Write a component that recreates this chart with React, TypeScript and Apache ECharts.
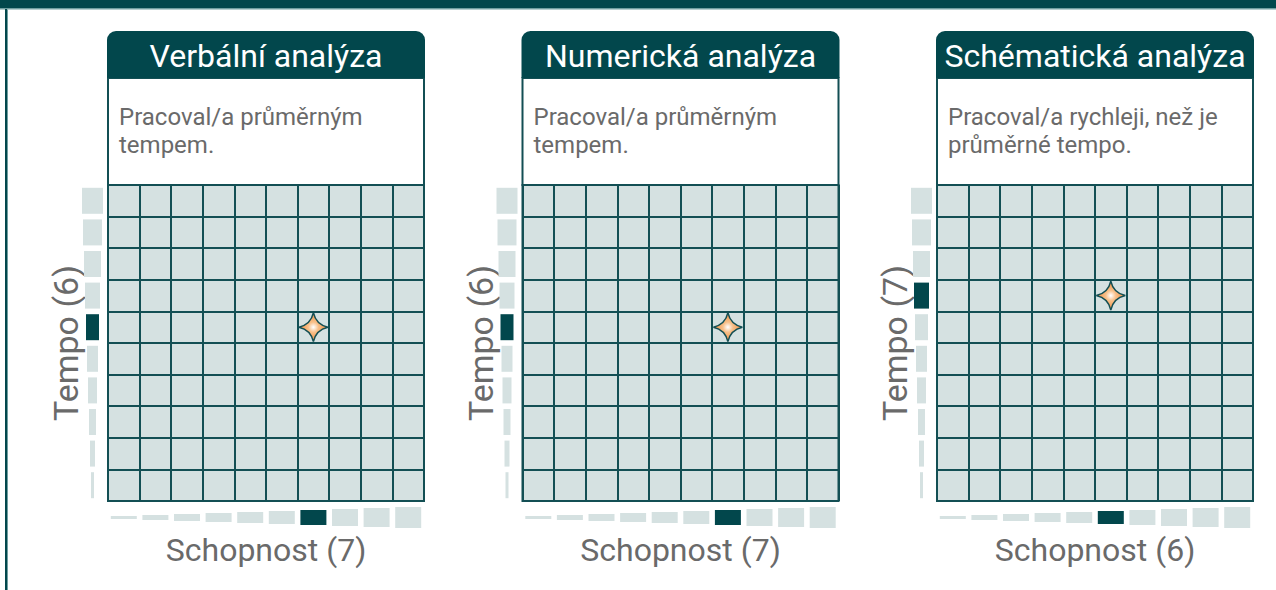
import React, { useEffect, useRef } from "react";
import * as echarts from "echarts";

const panelTitles = ["Verbální analýza", "Numerická analýza", "Schématická analýza"];
const descLine1 = ["Pracoval/a průměrným", "Pracoval/a průměrným", "Pracoval/a rychleji, než je"];
const descLine2 = ["tempem.", "tempem.", "průměrné tempo."];
const schopnost = [7, 7, 6];
const tempo = [6, 6, 7];
const levels = [1, 2, 3, 4, 5, 6, 7, 8, 9, 10];

const DARK = "#02474c";
const LINE = "#134f54";
const LIGHT = "#d5e1e1";
const GREY = "#6a6a6a";
const FONT = "Roboto";

const panelLefts = [108, 522.5, 937];
const GRID_TOP = 185;
const GRID_W = 316;
const GRID_H = 316;

const STAR = "path://M0,-14 Q2.5,-2.5 14,0 Q2.5,2.5 0,14 Q-2.5,2.5 -14,0 Q-2.5,-2.5 0,-14 Z";

export default function App() {
  const ref = useRef<HTMLDivElement>(null);
  useEffect(() => {
    document.body.style.margin = "0";
    const chart = echarts.init(ref.current!, null, { renderer: "svg" });

    const grids = panelLefts.map((l) => ({
      left: l,
      top: GRID_TOP,
      width: GRID_W,
      height: GRID_H,
      show: true,
      backgroundColor: LIGHT,
      borderColor: LINE,
      borderWidth: 2,
    }));
    const axisBase = (i: number) => ({
      type: "value",
      gridIndex: i,
      min: 0,
      max: 10,
      interval: 1,
      axisLabel: { show: false },
      axisTick: { show: false },
      axisLine: { show: false },
      splitLine: { show: true, lineStyle: { color: LINE, width: 2 } },
    });

    const series: any[] = [];
    panelLefts.forEach((_, i) => {
      series.push({
        type: "custom",
        xAxisIndex: i,
        yAxisIndex: i,
        clip: false,
        data: levels.map((v) => [v]),
        renderItem: (params: any, api: any) => {
          const v = api.value(0);
          const c = api.coord([0, v - 0.5]);
          const w = 1 + 2 * v;
          const h = 26;
          return {
            type: "rect",
            shape: { x: c[0] - 15.5 - w / 2, y: c[1] - h / 2, width: w, height: h },
            style: { fill: v === tempo[i] ? DARK : LIGHT },
          };
        },
      });
      series.push({
        type: "custom",
        xAxisIndex: i,
        yAxisIndex: i,
        clip: false,
        data: levels.map((v) => [v]),
        renderItem: (params: any, api: any) => {
          const v = api.value(0);
          const c = api.coord([v - 0.5, 0]);
          const h = 1 + 2 * v;
          const w = 26;
          return {
            type: "rect",
            shape: { x: c[0] - w / 2, y: c[1] + 16.5 - h / 2, width: w, height: h },
            style: { fill: v === schopnost[i] ? DARK : LIGHT },
          };
        },
      });
      series.push({
        type: "scatter",
        xAxisIndex: i,
        yAxisIndex: i,
        symbol: STAR,
        symbolSize: 29,
        z: 5,
        data: [[schopnost[i] - 0.5, tempo[i] - 0.5]],
        itemStyle: {
          color: new echarts.graphic.RadialGradient(0.5, 0.5, 0.5, [
            { offset: 0, color: "#ffffff" },
            { offset: 0.35, color: "#f8c08a" },
            { offset: 1, color: "#ec8a3c" },
          ]),
          borderColor: LINE,
          borderWidth: 1.5,
          opacity: 1,
        },
      });
    });

    const graphic: any[] = [
      { type: "rect", shape: { x: 0, y: 0, width: 1276, height: 8 }, style: { fill: DARK } },
      { type: "rect", shape: { x: 0, y: 8, width: 1276, height: 1.5 }, style: { fill: "#6f9ea0" } },
      { type: "rect", shape: { x: 5, y: 9, width: 2, height: 581 }, style: { fill: DARK } },
      { type: "rect", shape: { x: 7, y: 9.5, width: 1, height: 581 }, style: { fill: "#6f9ea0" } },
    ];
    panelLefts.forEach((l, i) => {
      graphic.push(
        { type: "rect", shape: { x: l, y: 78, width: GRID_W, height: 107 }, style: { fill: "#ffffff", stroke: LINE, lineWidth: 2 } },
        { type: "rect", shape: { x: l - 1, y: 31, width: GRID_W + 2, height: 47, r: [9, 9, 0, 0] }, style: { fill: DARK } },
        {
          type: "text",
          x: l + GRID_W / 2,
          y: 56,
          style: { text: panelTitles[i], fill: "#ffffff", font: `normal 32px ${FONT}`, align: "center", verticalAlign: "middle" },
        },
        {
          type: "text",
          x: l + 11,
          y: 117,
          style: { text: descLine1[i], fill: GREY, font: `normal 24px ${FONT}`, align: "left", verticalAlign: "middle" },
        },
        {
          type: "text",
          x: l + 11,
          y: 145,
          style: { text: descLine2[i], fill: GREY, font: `normal 24px ${FONT}`, align: "left", verticalAlign: "middle" },
        },
        {
          type: "text",
          x: l - 42,
          y: GRID_TOP + GRID_H / 2,
          rotation: Math.PI / 2,
          style: { text: `Tempo (${tempo[i]})`, fill: GREY, font: `normal 34px ${FONT}`, align: "center", verticalAlign: "middle" },
        },
        {
          type: "text",
          x: l + GRID_W / 2,
          y: 550,
          style: { text: `Schopnost (${schopnost[i]})`, fill: GREY, font: `normal 32px ${FONT}`, align: "center", verticalAlign: "middle" },
        }
      );
    });

    chart.setOption({
      animation: false,
      grid: grids,
      xAxis: panelLefts.map((_, i) => axisBase(i)),
      yAxis: panelLefts.map((_, i) => axisBase(i)),
      series,
      graphic,
    });
    return () => chart.dispose();
  }, []);
  return <div ref={ref} style={{ width: 1276, height: 590, position: "absolute", left: 0, top: 0 }} />;
}
